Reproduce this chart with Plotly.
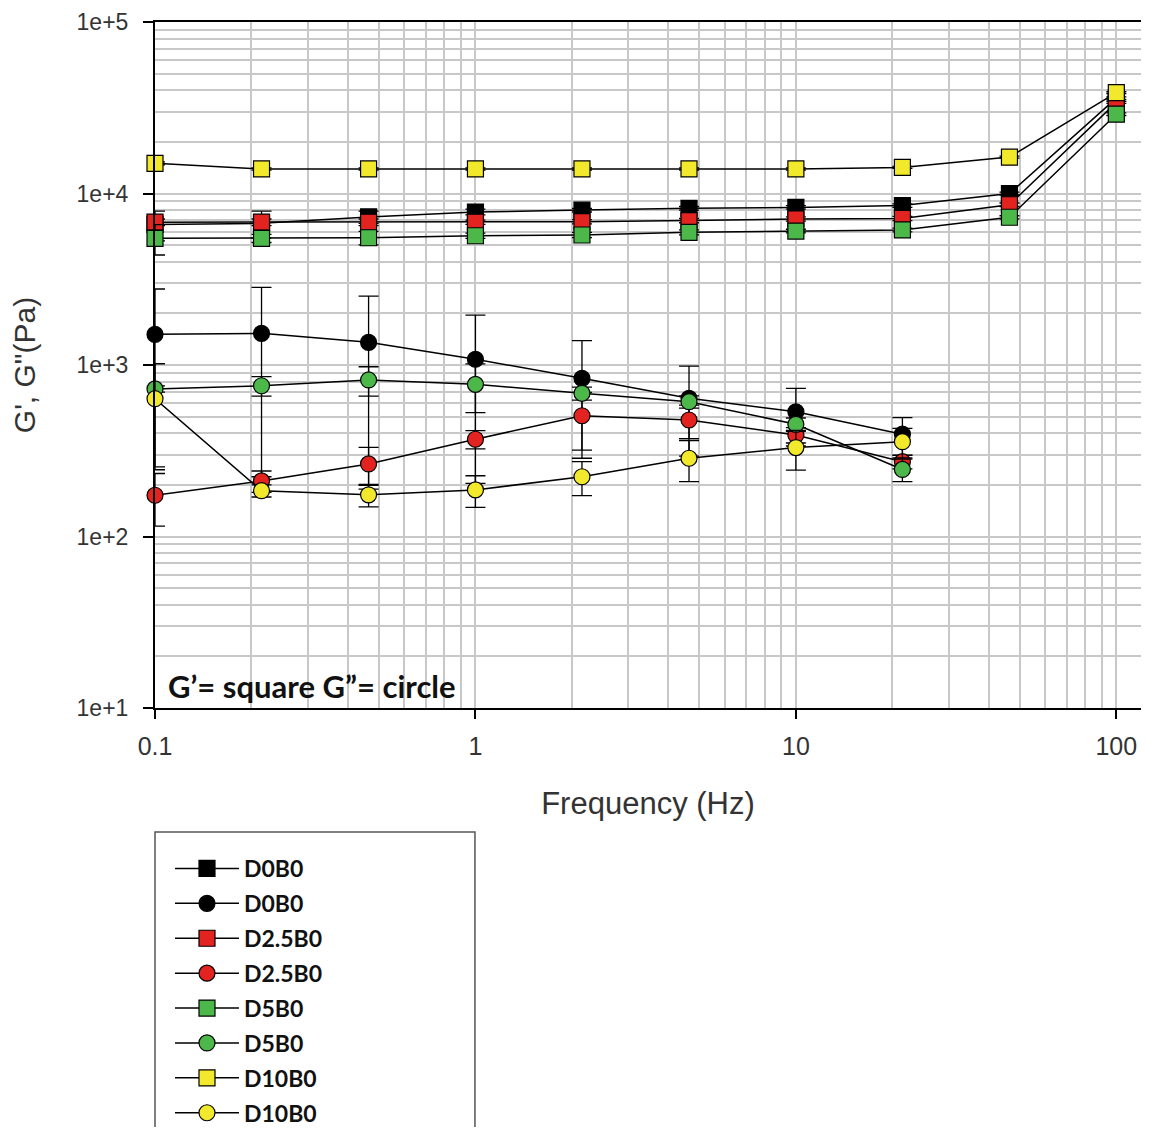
import plotly.graph_objects as go

# frequencies (Hz); G'' only measured up to 21.5 Hz
freq = [0.1, 0.215, 0.464, 1, 2.15, 4.64, 10, 21.5, 46.4, 100]
freq_c = freq[:8]

# G' (squares)
gp_d0 = [6600, 6700, 7300, 7800, 8000, 8200, 8300, 8500, 10000, 36000]
gp_d25 = [6800, 6800, 6800, 6800, 6850, 6950, 7100, 7150, 8600, 34000]
gp_d5 = [5480, 5480, 5520, 5670, 5730, 5940, 6040, 6130, 7270, 29000]
gp_d10 = [15000, 13900, 13900, 13900, 13900, 13900, 13900, 14200, 16300, 38700]

gp_d0_err = [1300, 1200, 600, 300, 200, 200, 200, 200, 200, 600]
gp_d25_err = [300, 300, 300, 200, 200, 200, 200, 200, 200, 500]
gp_d5_err = [1100, 300, 500, 200, 200, 200, 150, 150, 150, 500]
gp_d10_err = [300, 200, 200, 200, 200, 200, 200, 200, 200, 500]

# G'' (circles)
gpp_d0 = [1510, 1530, 1356, 1080, 836, 640, 534, 395]
gpp_d25 = [174, 211, 265, 369, 506, 478, 391, 273]
gpp_d5 = [725, 757, 818, 771, 684, 611, 451, 246]
gpp_d10 = [636, 185, 175, 187, 223, 286, 330, 357]

gpp_d0_err = [1265, 1307, 1167, 876, 550, 346, 197, 98]
gpp_d25_err = [59, 30, 66, 45, 187, 106, 40, 25]
gpp_d5_err = [30, 98, 159, 244, 60, 50, 40, 37]
gpp_d10_err = [381, 15, 26, 39, 50, 77, 86, 70]

y_tickvals = [10, 100, 1000, 10000, 100000]
y_ticktext = ["1e+1", "1e+2", "1e+3", "1e+4", "1e+5"]
x_tickvals = [0.1, 1, 10, 100]
x_ticktext = ["0.1", "1", "10", "100"]

BLACK = "#000000"
RED = "#e2231f"
GREEN = "#4cb84a"
YELLOW = "#f2e82c"

series = [
    ("D0B0", freq, gp_d0, gp_d0_err, "square", BLACK),
    ("D0B0", freq_c, gpp_d0, gpp_d0_err, "circle", BLACK),
    ("D2.5B0", freq, gp_d25, gp_d25_err, "square", RED),
    ("D2.5B0", freq_c, gpp_d25, gpp_d25_err, "circle", RED),
    ("D5B0", freq, gp_d5, gp_d5_err, "square", GREEN),
    ("D5B0", freq_c, gpp_d5, gpp_d5_err, "circle", GREEN),
    ("D10B0", freq, gp_d10, gp_d10_err, "square", YELLOW),
    ("D10B0", freq_c, gpp_d10, gpp_d10_err, "circle", YELLOW),
]

fig = go.Figure()
for i, (name, x, y, err, sym, col) in enumerate(series):
    fig.add_trace(go.Scatter(
        x=x, y=y, name=name, mode="lines+markers",
        legendgroup=f"g{i}", cliponaxis=False,
        line=dict(color="black", width=1.5),
        marker=dict(symbol=sym, size=16, color=col,
                    line=dict(color="black", width=1.2)),
        error_y=dict(type="data", array=err, visible=True,
                     color="black", thickness=1.3, width=10),
    ))

# minor grid at 2..9 of each decade
x_minor = [m * 10 ** e for e in (-1, 0, 1) for m in range(2, 10)]
y_minor = [m * 10 ** e for e in (1, 2, 3, 4) for m in range(2, 10)]

grid_col = "#c8c8c8"
tick_font = dict(family="Liberation Sans, Arial", color="#333333")

fig.update_xaxes(
    type="log", range=[-1, 2.077], automargin=False,
    tickmode="array", tickvals=x_tickvals, ticktext=x_ticktext,
    tickfont=dict(size=25, **tick_font), ticklabelstandoff=6,
    ticks="outside", ticklen=9, tickwidth=2, tickcolor="black",
    showline=True, linecolor="black", linewidth=2, mirror=True,
    showgrid=True, gridcolor=grid_col, gridwidth=1.5,
    minor=dict(tickmode="array", tickvals=x_minor, showgrid=True,
               gridcolor=grid_col, gridwidth=1.5, ticks=""),
    title=dict(text="Frequency (Hz)", standoff=33,
               font=dict(size=31, family="Liberation Sans, Arial", color="#333333")),
)
fig.update_yaxes(
    type="log", range=[1, 5], automargin=False,
    tickmode="array", tickvals=y_tickvals, ticktext=y_ticktext,
    tickfont=dict(size=23, **tick_font), ticklabelstandoff=10,
    ticks="outside", ticklen=10, tickwidth=2, tickcolor="black",
    showline=True, linecolor="black", linewidth=2, mirror=True,
    showgrid=True, gridcolor=grid_col, gridwidth=1.5,
    minor=dict(tickmode="array", tickvals=y_minor, showgrid=True,
               gridcolor=grid_col, gridwidth=1.5, ticks=""),
    title=dict(text="G', G\"(Pa)", standoff=33,
               font=dict(size=30, family="Liberation Sans, Arial", color="#333333")),
)

fig.add_annotation(
    x=0.011, y=0.032, xref="paper", yref="paper",
    xanchor="left", yanchor="middle", showarrow=False,
    text="G\u2019= square G\u201d= circle",
    font=dict(family="Lato", size=31, color="#111111", weight="bold"),
)

# legend frame drawn as a shape so it can be wider than the entries
fig.add_shape(type="rect", xref="paper", yref="paper",
              x0=0, x1=0.3245, y0=-0.6195, y1=-0.1808,
              line=dict(color="#555555", width=1.5), fillcolor="rgba(0,0,0,0)")

# page body keeps an 8px margin, so the figure is 16px smaller than the window
fig.update_layout(
    width=1133, height=1119,
    margin=dict(l=147, r=0, t=14, b=419, autoexpand=False),
    paper_bgcolor="white", plot_bgcolor="white",
    showlegend=True,
    legend=dict(
        x=0.0152, y=-0.2026, xanchor="left", yanchor="top",
        traceorder="grouped", tracegroupgap=2, itemwidth=64,
        bgcolor="rgba(0,0,0,0)", borderwidth=0,
        font=dict(family="Lato", size=23, color="#111111", weight="bold"),
    ),
)

fig.write_html("out.html")
